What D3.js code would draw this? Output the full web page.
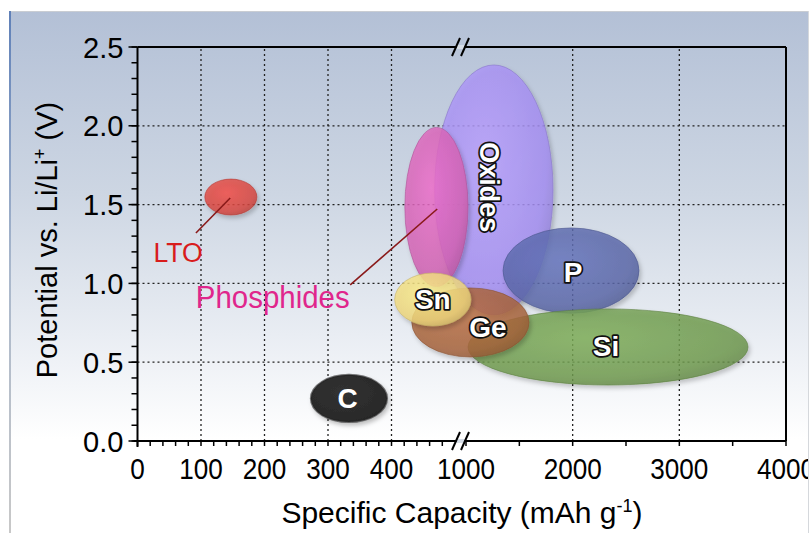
<!DOCTYPE html>
<html>
<head>
<meta charset="utf-8">
<script src="https://cdn.jsdelivr.net/npm/d3@7"></script>
<style>
  body { margin: 0; background: #fff; }
  svg { display: block; font-family: "Liberation Sans", Arial, sans-serif; }
</style>
</head>
<body>
<svg id="chart" width="811" height="533"></svg>
<script>
// material regions: capacity range (mAh/g) and potential range (V)
const materials = ["Oxides", "Phosphides", "P", "Si", "Ge", "Sn", "LTO", "C"];
const capMin = [468, 421, 1347, 1019, 432, 405, 106, 273];
const capMax = [1816, 1019, 2622, 3644, 1591, 1047, 188, 393];
const potMin = [0.80, 0.98, 0.81, 0.355, 0.533, 0.73, 1.434, 0.12];
const potMax = [2.386, 1.99, 1.352, 0.838, 0.971, 1.066, 1.662, 0.42];
const fills = ["#a48ef2", "#d462b4", "#5a67a8", "#6f9a4e", "#a6623a", "#eed67c", "#d8453e", "#2b2b2b"];

// labels written on the shapes
const onLabels = ["Oxides", "P", "Si", "Ge", "Sn", "C"];
const onLabelCap = [1216, 2003, 2312, 1206, 465, 331];
const onLabelPot = [1.61, 1.07, 0.60, 0.72, 0.90, 0.27];

// call-out labels with leader lines
const callouts = ["LTO", "Phosphides"];
const calloutCap = [64, 213];
const calloutPot = [1.20, 0.914];
const leaderFrom = [[92, 1.32], [335, 0.99]];
const leaderTo = [[146, 1.542], [472, 1.472]];
const calloutColors = ["#d81c1c", "#e0268c"];

// axes
const yTicks = [0, 0.5, 1.0, 1.5, 2.0, 2.5];
const yMinor = d3.range(0, 2.51, 0.1);
const xTicks = [0, 100, 200, 300, 400, 1000, 2000, 3000, 4000];
const xMinor = [20, 40, 60, 80, 120, 140, 160, 180, 220, 240, 260, 280, 320, 340, 360, 380, 420, 440, 460, 480, 1500, 2500, 3500];
const xGrid = [100, 200, 300, 400, 2000, 3000];
const yGrid = [0.5, 1.0, 1.5, 2.0];

const svg = d3.select("#chart");

// broken axis: 0-500 then 1000-4000
const x = d3.scaleLinear().domain([0, 500, 1000, 4000]).range([137.5, 455, 466, 786]);
const y = d3.scaleLinear().domain([0, 2.5]).range([441, 47]);

const defs = svg.append("defs");
const bg = defs.append("linearGradient").attr("id", "bg").attr("x1", 0).attr("y1", 0).attr("x2", 0).attr("y2", 1);
bg.append("stop").attr("offset", "0").attr("stop-color", "#b3c0d6");
bg.append("stop").attr("offset", "0.35").attr("stop-color", "#cdd6e3");
bg.append("stop").attr("offset", "0.62").attr("stop-color", "#e9edf3");
bg.append("stop").attr("offset", "0.82").attr("stop-color", "#ffffff");
const edge = defs.append("linearGradient").attr("id", "edge").attr("x1", 0).attr("y1", 0).attr("x2", 0).attr("y2", 1);
edge.append("stop").attr("offset", "0").attr("stop-color", "#5f80b8");
edge.append("stop").attr("offset", "0.5").attr("stop-color", "#aab8cc");
edge.append("stop").attr("offset", "1").attr("stop-color", "#c8c8c8");

const shadow = defs.append("filter").attr("id", "shadow").attr("x", "-20%").attr("y", "-20%").attr("width", "150%").attr("height", "150%");
shadow.append("feDropShadow").attr("dx", 2).attr("dy", 3).attr("stdDeviation", 2)
  .attr("flood-color", "#000").attr("flood-opacity", 0.25);

defs.append("clipPath").attr("id", "panelClip")
  .append("rect").attr("x", 9).attr("y", 11).attr("width", 799).attr("height", 522);

fills.forEach((c, i) => {
  const g = defs.append("radialGradient").attr("id", "grad" + i)
    .attr("cx", "0.42").attr("cy", "0.38").attr("r", "0.65");
  g.append("stop").attr("offset", "0").attr("stop-color", d3.color(c).brighter(0.35));
  g.append("stop").attr("offset", "0.8").attr("stop-color", c);
  g.append("stop").attr("offset", "1").attr("stop-color", d3.color(c).darker(0.3));
});

// panel
svg.append("rect").attr("x", 9).attr("y", 11).attr("width", 799).attr("height", 522).attr("fill", "url(#bg)");
svg.append("line").attr("x1", 9).attr("x2", 808).attr("y1", 11.5).attr("y2", 11.5).attr("stroke", "#c9cdd3");
svg.append("rect").attr("x", 9).attr("y", 11).attr("width", 2).attr("height", 522).attr("fill", "url(#edge)");
svg.append("line").attr("x1", 808.5).attr("x2", 808.5).attr("y1", 11).attr("y2", 533).attr("stroke", "#d5d8dc");

const root = svg.append("g").attr("clip-path", "url(#panelClip)");

// text squeezed horizontally like the source figure
function label(parent, px, py, sx, size) {
  return parent.append("g").attr("transform", `translate(${px},${py}) scale(${sx},1)`)
    .append("text").attr("font-size", size).attr("fill", "#000");
}

// grid
root.append("g").selectAll("line").data(xGrid).join("line")
  .attr("x1", d => x(d)).attr("x2", d => x(d))
  .attr("y1", y(0)).attr("y2", y(2.5))
  .attr("stroke", "#222").attr("stroke-width", 1.3).attr("stroke-dasharray", "2,3");
root.append("g").selectAll("line").data(yGrid).join("line")
  .attr("x1", x(0)).attr("x2", x(4000))
  .attr("y1", d => y(d)).attr("y2", d => y(d))
  .attr("stroke", "#222").attr("stroke-width", 1.3).attr("stroke-dasharray", "2,3");

// regions
const shapes = root.append("g");
materials.forEach((m, i) => {
  const x0 = x(capMin[i]), x1 = x(capMax[i]);
  const y0 = y(potMax[i]), y1 = y(potMin[i]);
  shapes.append("ellipse")
    .attr("cx", (x0 + x1) / 2).attr("cy", (y0 + y1) / 2)
    .attr("rx", (x1 - x0) / 2).attr("ry", (y1 - y0) / 2)
    .attr("fill", "url(#grad" + i + ")")
    .attr("fill-opacity", m === "C" ? 1 : 0.82)
    .attr("stroke", d3.color(fills[i]).darker(0.5))
    .attr("stroke-opacity", 0.6)
    .attr("stroke-width", m === "C" ? 2 : 1)
    .attr("filter", "url(#shadow)");
});

// leader lines and call-outs
callouts.forEach((c, i) => {
  root.append("line")
    .attr("x1", x(leaderFrom[i][0])).attr("y1", y(leaderFrom[i][1]))
    .attr("x2", x(leaderTo[i][0])).attr("y2", y(leaderTo[i][1]))
    .attr("stroke", "#8a1a1a").attr("stroke-width", 1.6);
  label(root, x(calloutCap[i]), y(calloutPot[i]), 0.95, i === 0 ? 28 : 31)
    .attr("text-anchor", "middle").attr("dominant-baseline", "central")
    .attr("fill", calloutColors[i])
    .text(c);
});

// labels on shapes
onLabels.forEach((t, i) => {
  const px = x(onLabelCap[i]), py = y(onLabelPot[i]);
  root.append("text")
    .attr("transform", `translate(${px},${py})` + (t === "Oxides" ? " rotate(90)" : ""))
    .attr("text-anchor", "middle").attr("dominant-baseline", "central")
    .attr("font-size", t === "Oxides" ? 27 : 28).attr("font-weight", "bold")
    .attr("fill", "#fff").attr("stroke", "#111").attr("stroke-width", t === "C" ? 0 : 3.5)
    .attr("stroke-linejoin", "round").attr("paint-order", "stroke")
    .text(t);
});

// frame: axes, top and right borders with break marks
const frame = root.append("g").attr("stroke", "#000").attr("stroke-width", 2).attr("fill", "none");
frame.append("line").attr("x1", x(0) - 4).attr("x2", x(4000)).attr("y1", y(0)).attr("y2", y(0));
frame.append("line").attr("x1", x(0)).attr("x2", x(4000)).attr("y1", y(2.5)).attr("y2", y(2.5));
frame.append("line").attr("x1", x(0)).attr("x2", x(0)).attr("y1", y(2.5)).attr("y2", y(0) + 6);
frame.append("line").attr("x1", x(4000)).attr("x2", x(4000)).attr("y1", y(2.5)).attr("y2", y(0));

const brk = (x(500) + x(1000)) / 2;
[y(0), y(2.5)].forEach(yy => {
  root.append("rect").attr("x", brk - 4).attr("y", yy - 2).attr("width", 8).attr("height", 4).attr("fill", "#d5dce6");
  [-4.5, 4.5].forEach(dx => {
    root.append("line")
      .attr("x1", brk + dx - 4).attr("y1", yy + 9)
      .attr("x2", brk + dx + 4).attr("y2", yy - 9)
      .attr("stroke", "#000").attr("stroke-width", 2);
  });
});

// y ticks
root.append("g").selectAll("line").data(yMinor).join("line")
  .attr("x1", x(0) - 6).attr("x2", x(0))
  .attr("y1", d => y(d)).attr("y2", d => y(d))
  .attr("stroke", "#000").attr("stroke-width", 1.5);
root.append("g").selectAll("line").data(yTicks).join("line")
  .attr("x1", x(0) - 9).attr("x2", x(0))
  .attr("y1", d => y(d)).attr("y2", d => y(d))
  .attr("stroke", "#000").attr("stroke-width", 1.5);
yTicks.forEach(d => {
  label(root, x(0) - 14, y(d), 0.97, 30)
    .attr("text-anchor", "end").attr("dominant-baseline", "central")
    .text(d3.format(".1f")(d));
});

// x ticks
root.append("g").selectAll("line").data(xMinor.concat(xTicks)).join("line")
  .attr("x1", d => x(d)).attr("x2", d => x(d))
  .attr("y1", y(0)).attr("y2", y(0) + 5)
  .attr("stroke", "#000").attr("stroke-width", 1.5);
xTicks.forEach(d => {
  label(root, x(d), y(0) + 38, 0.87, 30)
    .attr("text-anchor", "middle")
    .text(d);
});

// axis titles
const xt = label(root, 462, 523, 1, 30).attr("text-anchor", "middle");
xt.append("tspan").text("Specific Capacity (mAh g");
xt.append("tspan").attr("font-size", 18).attr("dy", -11).text("-1");
xt.append("tspan").attr("dy", 11).text(")");

const yt = root.append("text")
  .attr("transform", "translate(57,240) rotate(-90)")
  .attr("text-anchor", "middle").attr("font-size", 29).attr("fill", "#000");
yt.append("tspan").text("Potential vs. Li/Li");
yt.append("tspan").attr("font-size", 18).attr("dy", -11).text("+");
yt.append("tspan").attr("dy", 11).text(" (V)");
</script>
</body>
</html>
